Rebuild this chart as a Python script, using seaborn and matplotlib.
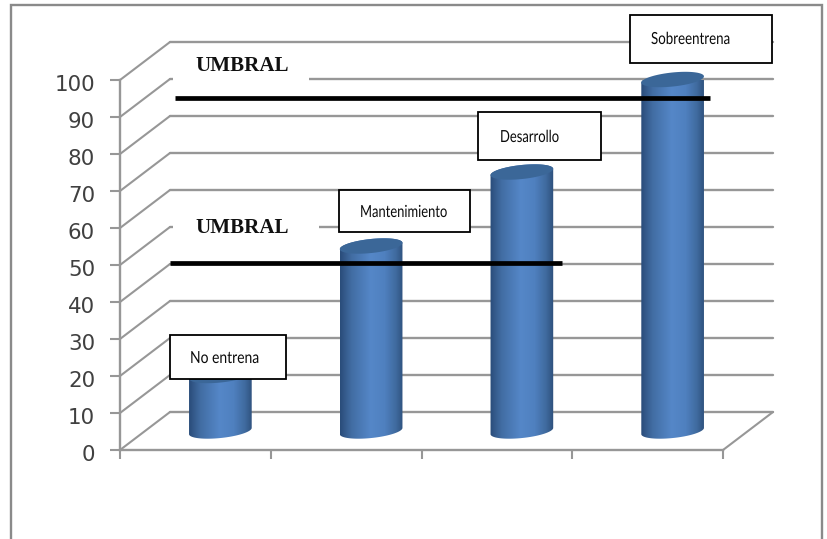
import numpy as np
import matplotlib
matplotlib.use("Agg")
import matplotlib.pyplot as plt
from matplotlib.colors import LinearSegmentedColormap
from matplotlib.patches import Polygon, Rectangle
from matplotlib.patheffects import AbstractPathEffect
from matplotlib.transforms import Affine2D, ScaledTranslation
import seaborn as sns

categories = ["No entrena", "Mantenimiento", "Desarrollo", "Sobreentrena"]
values = [15, 50, 70, 95]
value_ticks = list(range(0, 101, 10))
threshold_label = "UMBRAL"
threshold_low = 50.5
threshold_high = 95.1

GRID = "#979797"
TICK_TEXT = "#404040"
FRAME = "#8a8a8a"

sns.set_theme(style="white")
plt.rcParams["font.family"] = ["DejaVu Sans"]

W, H = 827, 539
fig = plt.figure(figsize=(W / 100, H / 100), dpi=100, facecolor="white")
ax = fig.add_axes([120 / W, (H - 450) / H, 603 / W, 370 / H])

sns.barplot(x=categories, y=values, color="#4f7fbb", width=0.418, ax=ax,
            saturation=1, zorder=2)
ax.set_xlim(-0.5, 3.5)
ax.set_ylim(0, 100)

# Pixel size of one data unit, used to express the floor depth in data units
ux = 603 / 4
uy = 370 / 100
depth_x = 50 / ux
depth_y = 38 / uy

# Back wall: rungs on the side wall and rules across the back
for v in value_ticks:
    ax.plot([-0.5, -0.5 + depth_x], [v, v + depth_y], color=GRID, lw=1.5,
            clip_on=False, zorder=1, solid_capstyle="round")
    ax.plot([-0.5 + depth_x, 3.5 + depth_x], [v + depth_y, v + depth_y],
            color=GRID, lw=1.7, clip_on=False, zorder=1)
ax.plot([3.5, 3.5 + depth_x], [0, depth_y], color=GRID, lw=1.5, clip_on=False, zorder=1)

# Horizontal shading of a cylinder
shade = LinearSegmentedColormap.from_list(
    "cyl", [(0, "#2a4c79"), (0.18, "#426da3"), (0.48, "#5587c8"),
            (0.70, "#4f80bf"), (0.88, "#3f6a9e"), (1, "#2d4f7a")])
gradient = np.linspace(0, 1, 256).reshape(1, -1)


def ellipse_arc(cx, cy, t):
    """Points on a slightly tilted ellipse in data units around (cx, cy)."""
    a, b, tilt = 31.5, 7.0, np.deg2rad(6)
    px = a * np.cos(t) * np.cos(tilt) - b * np.sin(t) * np.sin(tilt)
    py = a * np.cos(t) * np.sin(tilt) + b * np.sin(t) * np.cos(tilt)
    return np.column_stack([cx + px / ux, cy + py / uy])


# Turn each bar into a cylinder standing mid-way on the floor
for bar in list(ax.patches):
    cx = bar.get_x() + bar.get_width() / 2 + depth_x / 2
    base = depth_y / 2
    top = bar.get_height() + base
    bar.set_visible(False)
    lower = ellipse_arc(cx, base, np.linspace(np.pi, 2 * np.pi, 60))
    upper = ellipse_arc(cx, top, np.linspace(0, np.pi, 60))
    body = Polygon(np.vstack([lower, upper]), closed=True, transform=ax.transData,
                   fc="none", ec="none")
    ax.add_patch(body)
    half = bar.get_width() / 2
    img = ax.imshow(gradient, cmap=shade, aspect="auto", zorder=2,
                    extent=(cx - half, cx + half, 0, top + 3))
    img.set_clip_path(body)
    cap = ellipse_arc(cx, top, np.linspace(0, 2 * np.pi, 90))
    ax.add_patch(Polygon(cap, closed=True, fc="#3b6798", ec="none", zorder=3, clip_on=False))

ax.set_xlim(-0.5, 3.5)
ax.set_ylim(0, 100)

# Axes in the spreadsheet style: ticks on category boundaries, no category names
ax.set_xticks(np.arange(-0.5, 3.6, 1))
ax.set_xticklabels([])
ax.set_yticks(value_ticks)
ax.set_yticklabels([str(v) for v in value_ticks], fontsize=15.4, color=TICK_TEXT)
ax.tick_params(axis="y", left=True, length=7, width=1.5, color=GRID, pad=11)
ax.tick_params(axis="x", bottom=True, length=6.5, width=1.5, color=GRID)
for label in ax.get_yticklabels():
    label.set_transform(label.get_transform()
                        + ScaledTranslation(0, -3 / 100, fig.dpi_scale_trans))
ax.set_xlabel("")
ax.set_ylabel("")
ax.grid(False)
ax.patch.set_alpha(0)
for side in ("top", "right"):
    ax.spines[side].set_visible(False)
for side in ("left", "bottom"):
    ax.spines[side].set_color(GRID)
    ax.spines[side].set_linewidth(1.7)

# Overlay in pixel units for the outer frame and the pasted-on labels
ov = fig.add_axes([0, 0, 1, 1], zorder=5)
ov.set_xlim(0, W)
ov.set_ylim(H, 0)
ov.axis("off")

ov.plot([10.5, 10.5, 822, 822], [H, 5, 5, H], color=FRAME, lw=1.7, solid_joinstyle="miter")

# White patches that interrupt the rules behind each threshold caption
for x0, y0, w, h in [(173, 50, 136, 40), (173, 212, 146, 38)]:
    ov.add_patch(Rectangle((x0, y0), w, h, fc="white", ec="none", zorder=1))
for x, y in [(195, 66), (195, 228)]:
    ov.text(x, y, threshold_label, family="Liberation Serif", weight="bold",
            fontsize=15.1, color="#111111", ha="left", va="center", zorder=2)

# Threshold rules, placed on the value scale of the chart
ax_to_ov = lambda x, y: ov.transData.inverted().transform(ax.transData.transform((x, y)))
for y_val, x0, x1 in [(threshold_low, -0.168, 2.43), (threshold_high, -0.135, 3.414)]:
    a = ax_to_ov(x0, y_val)
    b = ax_to_ov(x1, y_val)
    ov.plot([a[0], b[0]], [a[1], b[1]], color="black", lw=3.4, solid_capstyle="butt", zorder=3)


class Condense(AbstractPathEffect):
    """Squeezes a text's outline horizontally about a fixed display x."""

    def __init__(self, factor, cx):
        super().__init__()
        self.factor = factor
        self.cx = cx

    def draw_path(self, renderer, gc, tpath, affine, rgbFace=None):
        squeeze = Affine2D().translate(-self.cx, 0).scale(self.factor, 1).translate(self.cx, 0)
        renderer.draw_path(gc, tpath, affine + squeeze, rgbFace)


boxes = [(169.5, 335, 116.5, 44, 224.5, 358, 69),
         (338.5, 190, 131.5, 42, 403.5, 212, 87),
         (478, 112, 123, 48, 529.5, 137, 59),
         (630, 15, 142, 48, 690.5, 39, 79)]
renderer = fig.canvas.get_renderer()
for name, (x0, y0, w, h, tx, ty, text_w) in zip(categories, boxes):
    ov.add_patch(Rectangle((x0, y0), w, h, fc="white", ec="black", lw=1.3, zorder=4))
    label = ov.text(tx, ty, name, family="Lato", fontsize=12,
                    color="#0a0a0a", ha="center", va="center", zorder=5)
    natural = label.get_window_extent(renderer).width
    label.set_path_effects([Condense(text_w / natural, tx)])

fig.savefig("out.png", dpi=100, facecolor="white")
